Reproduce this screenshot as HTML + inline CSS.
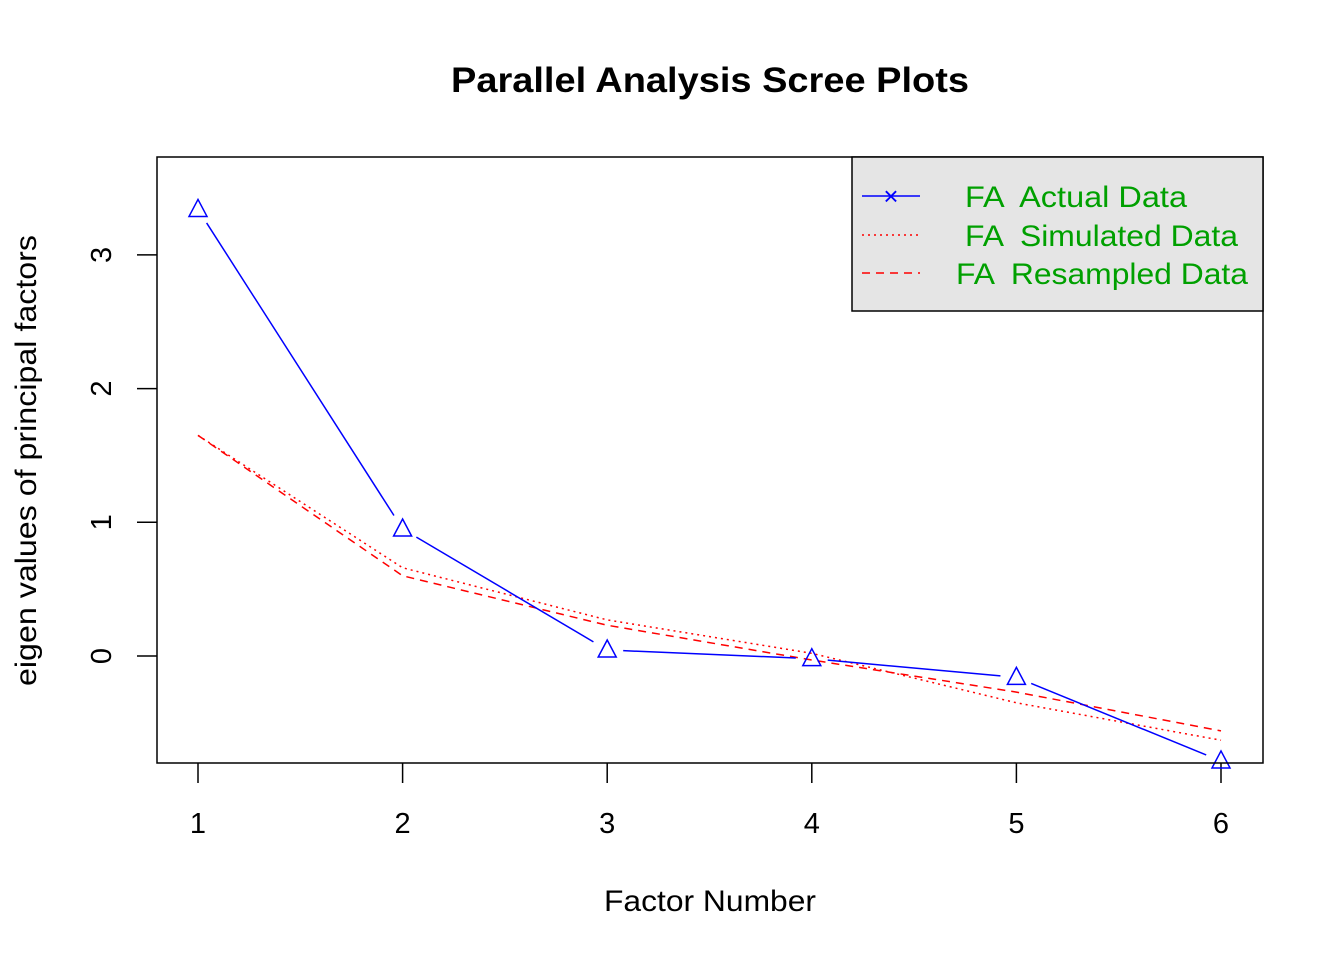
<!DOCTYPE html>
<html><head><meta charset="utf-8"><style>
body{margin:0;background:#fff}
svg{display:block;font-family:"Liberation Sans",Arial,sans-serif}
</style></head><body>
<svg id="chart" width="1344" height="960" xmlns="http://www.w3.org/2000/svg">
<rect width="1344" height="960" fill="#fff"/>
<text x="451" y="92" font-size="35" font-weight="bold" textLength="518" lengthAdjust="spacingAndGlyphs">Parallel Analysis Scree Plots</text>
<text x="604" y="911" font-size="30" textLength="212" lengthAdjust="spacingAndGlyphs">Factor Number</text>
<text transform="translate(36,686) rotate(-90)" font-size="30" textLength="451" lengthAdjust="spacingAndGlyphs">eigen values of principal factors</text>
<g id="marks"></g>
<rect x="157" y="157" width="1106" height="606" fill="none" stroke="#000" stroke-width="1.5"/>
<g>
<rect x="852" y="157" width="411" height="154" fill="#e5e5e5" stroke="#000" stroke-width="1.5"/>
<line x1="862" y1="196" x2="920" y2="196" stroke="#00f" stroke-width="1.5"/>
<text x="891" y="205" text-anchor="middle" font-size="26" fill="#00f">×</text>
<line x1="862" y1="235" x2="920" y2="235" stroke="#f00" stroke-width="1.5" stroke-dasharray="2,4"/>
<line x1="862" y1="273" x2="920" y2="273" stroke="#f00" stroke-width="1.5" stroke-dasharray="8,6"/>
<text x="965" y="207" font-size="30" fill="#00a000" xml:space="preserve" textLength="222" lengthAdjust="spacingAndGlyphs">FA  Actual Data</text>
<text x="965" y="246" font-size="30" fill="#00a000" xml:space="preserve" textLength="273" lengthAdjust="spacingAndGlyphs">FA  Simulated Data</text>
<text x="956" y="284" font-size="30" fill="#00a000" xml:space="preserve" textLength="292" lengthAdjust="spacingAndGlyphs">FA  Resampled Data</text>
</g>
</svg>
<script>
const factors=[1,2,3,4,5,6];
const actual=[3.34,0.95,0.045,-0.02,-0.16,-0.785];
const simulated=[1.65,0.66,0.27,0.02,-0.35,-0.63];
const resampled=[1.65,0.60,0.23,-0.03,-0.27,-0.56];
const xTicks=[1,2,3,4,5,6];
const yTicks=[0,1,2,3];
const NS="http://www.w3.org/2000/svg";
const sx=v=>198+(v-1)*204.6;
const sy=v=>656-v*133.7;
const g=document.getElementById('marks');
function mk(t,a){const e=document.createElementNS(NS,t);for(const k in a)e.setAttribute(k,a[k]);g.appendChild(e);return e;}
xTicks.forEach(t=>{
 const l=mk('line',{x1:sx(t),x2:sx(t),y1:763,y2:783,stroke:'#000','stroke-width':1.5});
 
 
 const tx=mk('text',{x:sx(t),y:833,'text-anchor':'middle','font-size':29});tx.textContent=t;
 
 
});
yTicks.forEach(t=>{
 const l=mk('line',{x1:137,x2:157,y1:sy(t),y2:sy(t),stroke:'#000','stroke-width':1.5});
 
 
 const tx=mk('text',{transform:`translate(111,${sy(t)}) rotate(-90)`,'text-anchor':'middle','font-size':29});tx.textContent=t;
 
 
});
function line(vals,dash,name){
 const p=mk('polyline',{points:vals.map((v,i)=>sx(factors[i])+','+sy(v)).join(' '),fill:'none',stroke:'#f00','stroke-width':1.5,'stroke-dasharray':dash});
 
 
}
line(simulated,'2,4','simulated-line');
line(resampled,'8,6','resampled-line');
for(let i=0;i<factors.length-1;i++){
 const x1=sx(factors[i]),y1=sy(actual[i]),x2=sx(factors[i+1]),y2=sy(actual[i+1]);
 const d=Math.hypot(x2-x1,y2-y1),g0=16,ux=(x2-x1)/d,uy=(y2-y1)/d;
 const s=mk('line',{x1:x1+ux*g0,y1:y1+uy*g0,x2:x2-ux*g0,y2:y2-uy*g0,stroke:'#00f','stroke-width':1.5});
 
 
}
actual.forEach((v,i)=>{
 const x=sx(factors[i]),y=sy(v);
 const t=mk('polygon',{points:`${x},${y-10} ${x-9},${y+7} ${x+9},${y+7}`,fill:'none',stroke:'#00f','stroke-width':1.5});
 
 
});
</script>
</body></html>
